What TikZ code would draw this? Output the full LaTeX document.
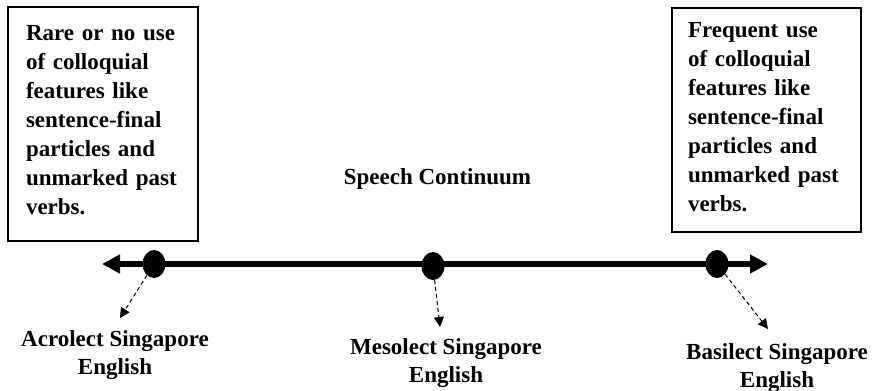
\documentclass[tikz,border=0pt]{standalone}
\usepackage{fontspec}
\setmainfont{Liberation Serif}
\usetikzlibrary{arrows.meta,shapes.geometric}
\begin{document}
\begin{tikzpicture}[x=1pt,y=-1pt,
 frame/.style={draw, line width=2.5pt, minimum width=190pt, minimum height=234pt, inner sep=0pt},
 boxtext/.style={font=\fontsize{23}{29}\selectfont\bfseries, text width=155pt, align=left, inner sep=0pt},
 lbl/.style={font=\fontsize{23}{28}\selectfont\bfseries, align=center, inner sep=0pt},
 title/.style={font=\fontsize{23}{28}\selectfont\bfseries, inner sep=0pt},
 dot/.style={ellipse, fill=black, minimum width=23pt, minimum height=28pt, inner sep=0pt},
 axis/.style={line width=6pt, {Triangle[length=18pt,width=18pt]}-{Triangle[length=18pt,width=18pt]}},
 pointer/.style={dash pattern=on 4pt off 3pt, line width=1pt, -{Triangle[length=10pt,width=10pt]}}]
\useasboundingbox (0,0) rectangle (876,391);
% boxes
\node[frame] (lbox) at (103,124) {};
\node[boxtext] (ltext) at (103.5,120) {Rare or no use\\ of colloquial\\ features like\\ sentence-final\\ particles and\\ unmarked past\\ verbs.};
\node[frame, minimum width=189pt, minimum height=224pt] (rbox) at (766.5,120) {};
\node[boxtext] (rtext) at (765.5,117) {Frequent use\\ of colloquial\\ features like\\ sentence-final\\ particles and\\ unmarked past\\ verbs.};
% title
\node[title, anchor=base] (sc) at (437.5,184) {Speech Continuum};
% axis
\coordinate (axl) at (102,264);
\coordinate (axr) at (768,264);
\draw[axis] (axl) -- (axr);
\node[dot] (acro) at (154,264) {};
\node[dot] (meso) at (433,266) {};
\node[dot] (basi) at (717,264) {};
% pointers
\coordinate (acrotip) at (120,318);
\coordinate (mesotip) at (440,327);
\coordinate (basitip) at (768,329);
\draw[pointer] (acro) -- (acrotip);
\draw[pointer] (meso) -- (mesotip);
\draw[pointer] (basi) -- (basitip);
% labels
\node[lbl] (acrolbl) at (115,355) {Acrolect Singapore\\ English};
\node[lbl] (mesolbl) at (446,363) {Mesolect Singapore\\ English};
\node[lbl] (basilbl) at (777,368) {Basilect Singapore\\ English};
\end{tikzpicture}
\end{document}
